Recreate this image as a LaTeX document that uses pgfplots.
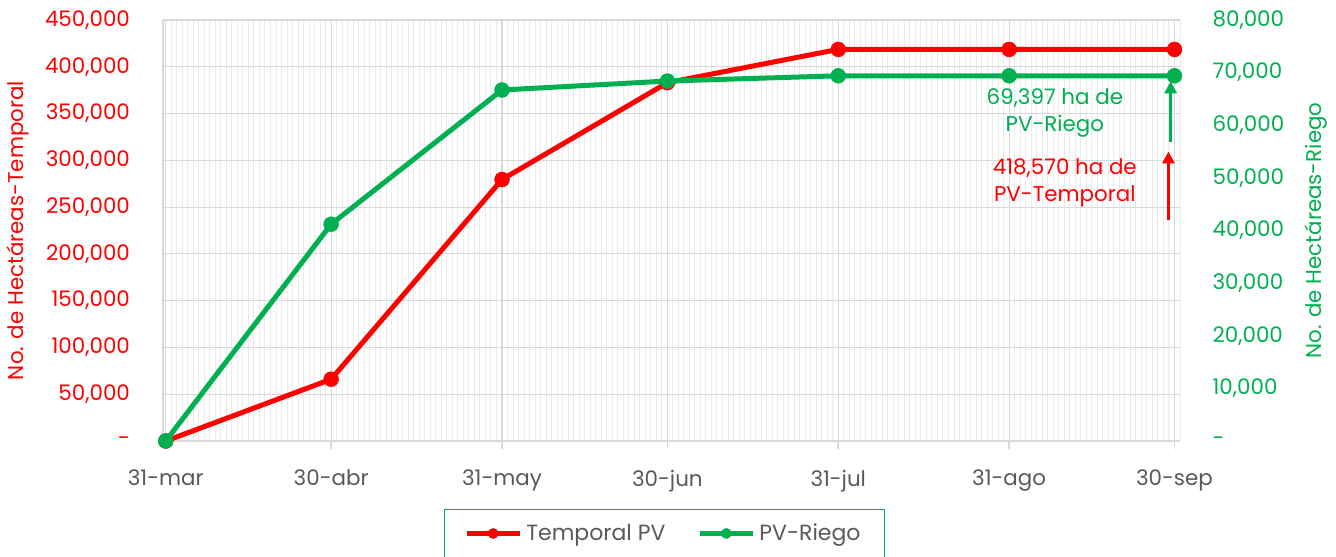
\documentclass[border=0pt]{standalone}
\usepackage{fontspec}
\setmainfont{Poppins}
\usepackage{pgfplots}
\pgfplotsset{compat=1.18}
\usetikzlibrary{arrows.meta}
\definecolor{xred}{HTML}{FF0000}
\definecolor{xgreen}{HTML}{00B050}
\definecolor{xgray}{HTML}{595959}
\definecolor{gmaj}{HTML}{D9D9D9}
\definecolor{gmin}{HTML}{EBEBEB}
\begin{document}
\begin{tikzpicture}[font=\fontsize{10.7}{13.5}\selectfont]
\begin{axis}[
  scale only axis, width=508.5pt, height=210.5pt,
  xmin=-0.5, xmax=184, ymin=0, ymax=450000,
  scaled y ticks=false, scaled x ticks=false,
  axis x line*=bottom, axis y line*=left,
  axis line style={gmaj, line width=0.8pt},
  xtick={0,30,61,91,122,153,183},
  xticklabels={31-mar,30-abr,31-may,30-jun,31-jul,31-ago,30-sep},
  minor xtick={0,1,...,184},
  ytick={0,50000,...,450000},
  yticklabels={-,{50,000},{100,000},{150,000},{200,000},{250,000},{300,000},{350,000},{400,000},{450,000}},
  grid=both,
  major grid style={gmaj, line width=0.6pt},
  minor grid style={gmin, line width=0.5pt},
  tick align=outside, major tick length=4pt, minor tick length=0pt,
  xtick style={gmaj, line width=0.8pt},
  ytick style={draw=none},
  xticklabel style={text=xgray, yshift=-7pt},
  yticklabel style={text=xred, anchor=east, xshift=-9pt},
  every axis y label/.style={at={(axis description cs:-0.1426,0.5)}, anchor=center, rotate=90, text=xred},
  ylabel={No. de Hectáreas-Temporal},
  clip=false,
]
\addplot[xred, line width=2.5pt, mark=*, mark size=3.7pt, mark options={line width=0.3pt}] coordinates {
  (0,0) (30,66000) (61,279500) (91,383000) (122,418570) (153,418570) (183,418570)};
\node[text=xgreen, align=center] at (axis cs:161.3,350600) {69,397 ha de\\PV-Riego};
\node[text=xred, align=center] at (axis cs:163.1,275800) {418,570 ha de\\PV-Temporal};
\draw[xgreen, line width=1.6pt, -{Triangle[length=6pt,width=6pt]}] (axis cs:182.3,319600) -- (axis cs:182.3,384500);
\draw[xred, line width=1.6pt, -{Triangle[length=6pt,width=6pt]}] (axis cs:181.9,236200) -- (axis cs:181.9,309500);
\end{axis}
\begin{axis}[
  scale only axis, width=508.5pt, height=210.5pt,
  xmin=-0.5, xmax=184, ymin=0, ymax=80000,
  scaled y ticks=false, scaled x ticks=false,
  axis x line=none, axis y line*=right,
  axis line style={draw=none},
  ytick={0,10000,...,80000},
  yticklabels={-,{10,000},{20,000},{30,000},{40,000},{50,000},{60,000},{70,000},{80,000}},
  ytick style={draw=none},
  tick align=outside,
  yticklabel style={text=xgreen, anchor=west, xshift=8.5pt},
  every axis y label/.style={at={(axis description cs:1.1337,0.5)}, anchor=center, rotate=90, text=xgreen},
  ylabel={No. de Hectáreas-Riego},
  clip=false,
  legend columns=2,
  legend image code/.code={\draw[#1] (0pt,0pt) -- (26.5pt,0pt); \fill[#1, draw=none] (13.25pt,0pt) circle (2.7pt);},
  legend style={at={(axis description cs:0.493,-0.1615)}, anchor=north, draw=xgreen, line width=0.6pt,
    inner xsep=10pt, inner ysep=5pt, font=\fontsize{11}{13.5}\selectfont,
    /tikz/every even column/.append style={column sep=14pt}},
]
\addlegendimage{xred, line width=2.5pt}
\addlegendentry{\textcolor{xgray}{Temporal PV}}
\addplot[xgreen, line width=2.5pt, mark=*, mark size=3.7pt, mark options={line width=0.3pt}] coordinates {
  (0,0) (30,41200) (61,66700) (91,68400) (122,69397) (153,69397) (183,69397)};
\addlegendentry{\textcolor{xgray}{PV-Riego}}
\end{axis}
\pgfresetboundingbox
\path[use as bounding box] (-81.5pt,-57.5pt) rectangle (586.5pt,220.5pt);
\end{tikzpicture}
\end{document}
